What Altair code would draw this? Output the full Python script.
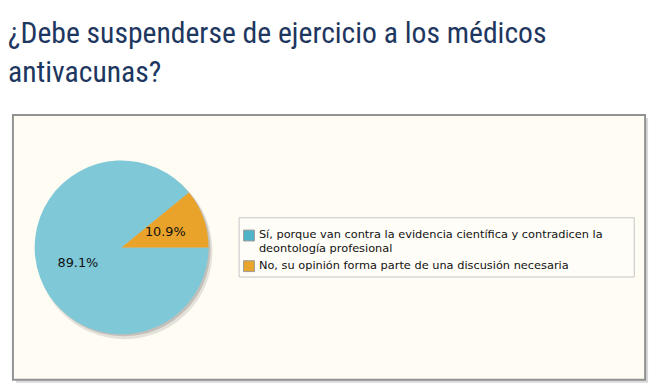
import math
import altair as alt
import pandas as pd

title_lines = ["¿Debe suspenderse de ejercicio a los médicos", "antivacunas?"]
categories = [
    "Sí, porque van contra la evidencia científica y contradicen la deontología profesional",
    "No, su opinión forma parte de una discusión necesaria",
]
legend_lines = [
    ["Sí, porque van contra la evidencia científica y contradicen la", "deontología profesional"],
    ["No, su opinión forma parte de una discusión necesaria"],
]
values = [89.1, 10.9]
pie_colors = ["#7EC8D8", "#E9A22A"]
swatch_colors = ["#4FB4CA", "#E9A52C"]

df = pd.DataFrame({
    "cat": categories,
    "value": values,
    "idx": list(range(len(values))),
    "label": [f"{v:.1f}%" for v in values],
})
one = pd.DataFrame({"a": [0]})

W, H = 640, 268
CX, CY, R = 110, 134, 88
theta_scale = alt.Scale(range=[math.pi / 2, math.pi / 2 + 2 * math.pi])
color_scale = alt.Scale(domain=categories, range=pie_colors)

shadow_box = alt.Chart(one).mark_rect(fill="#D9D9D9").encode(
    x=alt.value(3), x2=alt.value(W + 3), y=alt.value(3), y2=alt.value(H + 3))
box = alt.Chart(one).mark_rect(fill="#FFFCF4", stroke="#929292", strokeWidth=2).encode(
    x=alt.value(0), x2=alt.value(W), y=alt.value(0), y2=alt.value(H))

title = alt.Chart(one).mark_text(
    font="Roboto Condensed, Liberation Sans Narrow, DejaVu Sans Condensed, Roboto",
    fontSize=30, color="#1E3760", align="left",
    baseline="alphabetic", lineHeight=40,
).encode(x=alt.value(-5), y=alt.value(-73), text=alt.value(title_lines))

pie_shadow1 = alt.Chart(one).mark_arc(fill="#000000", opacity=0.10, radius=R + 1).encode(
    x=alt.value(CX + 3), y=alt.value(CY + 4), theta=alt.value(2 * math.pi))
pie_shadow2 = alt.Chart(one).mark_arc(fill="#000000", opacity=0.15, radius=R).encode(
    x=alt.value(CX + 2), y=alt.value(CY + 2), theta=alt.value(2 * math.pi))

pie = alt.Chart(df).mark_arc(radius=R).encode(
    x=alt.value(CX), y=alt.value(CY),
    theta=alt.Theta("value:Q", stack=True, scale=theta_scale),
    color=alt.Color("cat:N", scale=color_scale, legend=None),
    order=alt.Order("idx:Q"),
)
labels = alt.Chart(df).mark_text(
    radius=47, font="DejaVu Sans", fontSize=13, color="#111111").encode(
    x=alt.value(CX), y=alt.value(CY),
    theta=alt.Theta("value:Q", stack=True, scale=theta_scale),
    order=alt.Order("idx:Q"),
    text="label:N",
)

legend_box = alt.Chart(one).mark_rect(fill="#FFFDF7", stroke="#C4C4C4", strokeWidth=1).encode(
    x=alt.value(229), x2=alt.value(629), y=alt.value(104), y2=alt.value(164))

legend_layers = []
centers = [122, 153]
for i, lines in enumerate(legend_lines):
    legend_layers.append(
        alt.Chart(one).mark_rect(fill=swatch_colors[i], stroke="#9A9A9A", strokeWidth=1).encode(
            x=alt.value(233.5), x2=alt.value(244.5),
            y=alt.value(centers[i] - 5.5), y2=alt.value(centers[i] + 5.5)))
    legend_layers.append(
        alt.Chart(one).mark_text(font="DejaVu Sans", fontSize=11.5, color="#111111",
                                 align="left", baseline="middle", lineHeight=14).encode(
            x=alt.value(249), y=alt.value(centers[i]), text=alt.value(lines)))

chart = alt.layer(
    shadow_box, box, title, pie_shadow1, pie_shadow2, pie, labels, legend_box, *legend_layers
).properties(
    width=W, height=H,
    autosize=alt.AutoSizeParams(type="none"),
    padding={"left": 5, "top": 106, "right": 9, "bottom": 6},
    background="white",
).configure_view(stroke=None)

chart.save("out.html", embed_options={"renderer": "svg", "actions": False})
